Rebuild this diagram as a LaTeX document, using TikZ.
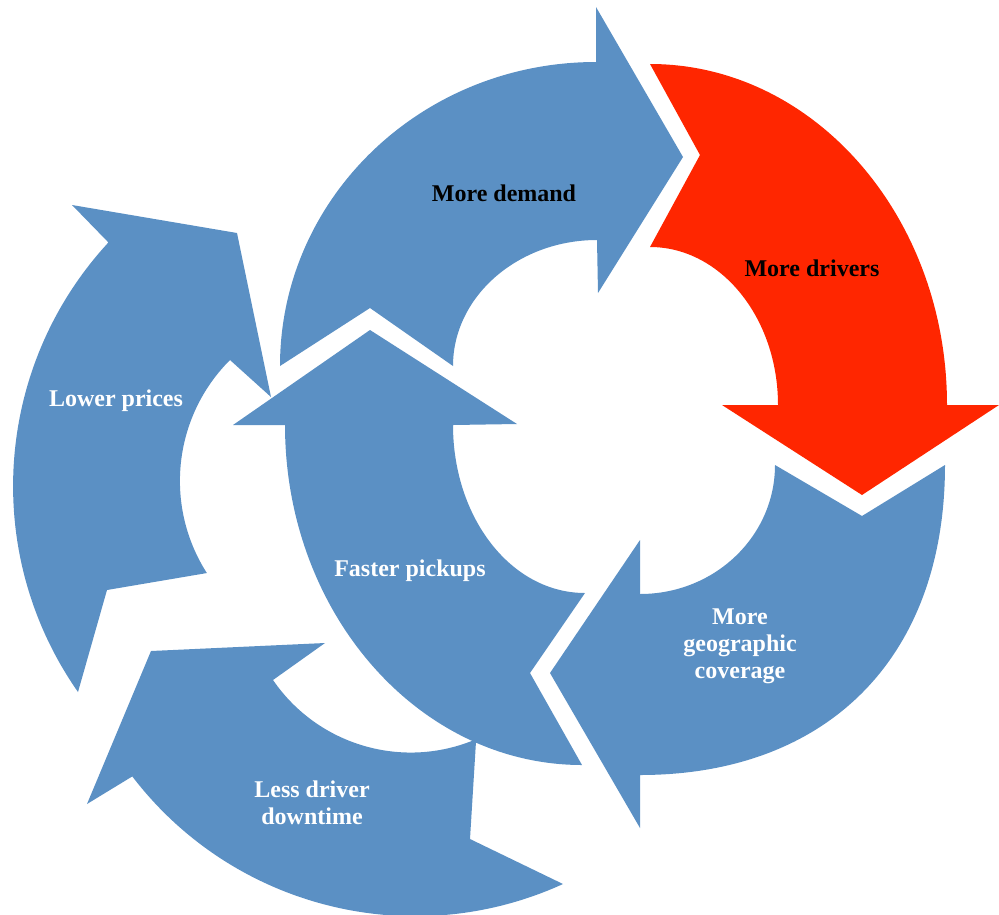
\documentclass[tikz,border=0pt]{standalone}
\usepackage{fontspec}
\setmainfont{Liberation Serif}
\definecolor{flyblue}{HTML}{5B90C4}
\definecolor{flyred}{HTML}{FF2600}
\tikzset{
  band/.style={fill=flyblue, draw=none},
  hotband/.style={fill=flyred, draw=none},
  lbl/.style={font=\fontsize{24}{27}\selectfont\bfseries, text=white, align=center, inner sep=0pt},
  lbldark/.style={lbl, text=black},
}
\begin{document}
\begin{tikzpicture}[x=1pt, y=-1pt]
\useasboundingbox (0,0) rectangle (999,914);
\clip (0,0) rectangle (999,914);

% ---- left loop ----
% Lower prices
\path[band] (72,205) -- (237,233) -- (271,397) -- (230,360)
  arc[start angle=135, end angle=212.6, radius=171pt]
  -- (107,590) -- (78,692)
  arc[start angle=215, end angle=137.26, radius=359pt] -- cycle;
% Less driver downtime
\path[band] (87,804) -- (151,651) -- (325,643) -- (273,680)
  arc[start angle=-145.55, end angle=-66.93, radius=167pt]
  -- (470,839) -- (563,884)
  arc[start angle=-65.45, end angle=-142.6, radius=356pt] -- cycle;

% ---- main loop ----
% More demand
\path[band] (280,366) .. controls (280,198) and (421.5,62) .. (596,62)
  -- (596,7) -- (683,157) -- (598,293) -- (597,240)
  .. controls (518,240) and (453,296.4) .. (453,366) -- (370,308) -- cycle;
% More drivers
\path[hotband] (650,64) .. controls (814,64) and (947,216.7) .. (947,405)
  -- (999,405) -- (862,495) -- (722,405) -- (778,405)
  .. controls (778,317.7) and (720.7,247) .. (650,247) -- (700,155) -- cycle;
% More geographic coverage
\path[band] (945,465) .. controls (945,660) and (825,775) .. (640,775)
  -- (640,828) -- (550,673) -- (640,540) -- (640,594)
  .. controls (715,594) and (775,536) .. (775,465) -- (862,516) -- cycle;
% Faster pickups
\path[band] (582,765) .. controls (418.4,765) and (285,612.8) .. (285,425)
  -- (233,425) -- (370,330) -- (517,424) -- (453,425)
  .. controls (453,517.8) and (511.2,593) .. (585,593) -- (530,673) -- cycle;

% ---- labels ----
\node[lbldark, anchor=base] (demand) at (504,201) {More demand};
\node[lbldark, anchor=base] (drivers) at (812,276) {More drivers};
\node[lbl] (geo) at (740,646) {More\\geographic\\coverage};
\node[lbl, anchor=base] (pickups) at (410,576) {Faster pickups};
\node[lbl, anchor=base] (prices) at (116,406) {Lower prices};
\node[lbl] (downtime) at (312,803) {Less driver\\downtime};
\end{tikzpicture}
\end{document}
